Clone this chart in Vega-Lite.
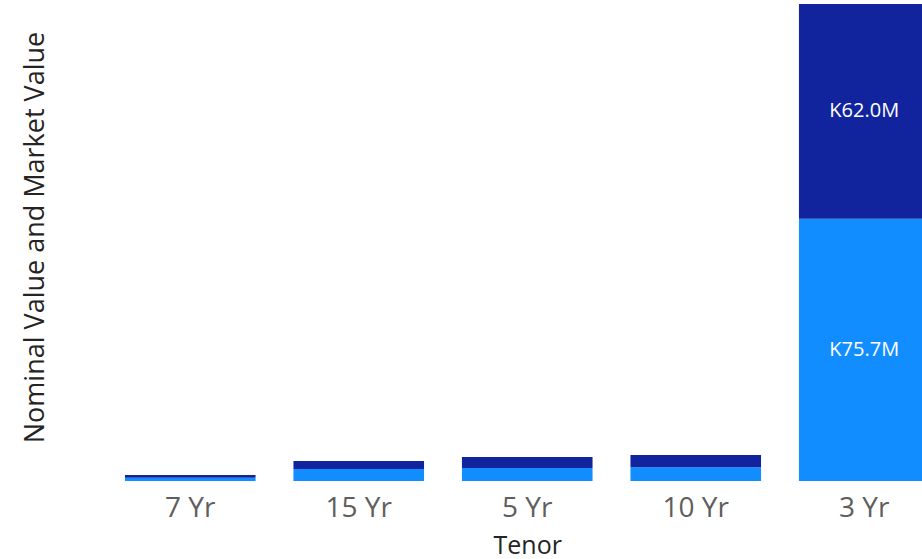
{
  "$schema": "https://vega.github.io/schema/vega-lite/v6.json",
  "autosize": "none",
  "width": 816,
  "height": 477,
  "padding": {"left": 106, "top": 4, "right": 0, "bottom": 78},
  "background": "white",
  "config": {"view": {"stroke": null}, "font": "Open Sans"},
  "data": {
    "values": [
      {"tenor": "7 Yr", "measure": "Nominal Value", "order": 1, "value": 0.95},
      {"tenor": "7 Yr", "measure": "Market Value", "order": 2, "value": 0.8},
      {"tenor": "15 Yr", "measure": "Nominal Value", "order": 1, "value": 3.5},
      {"tenor": "15 Yr", "measure": "Market Value", "order": 2, "value": 2.3},
      {"tenor": "5 Yr", "measure": "Nominal Value", "order": 1, "value": 3.75},
      {"tenor": "5 Yr", "measure": "Market Value", "order": 2, "value": 3.2},
      {"tenor": "10 Yr", "measure": "Nominal Value", "order": 1, "value": 4.0},
      {"tenor": "10 Yr", "measure": "Market Value", "order": 2, "value": 3.5},
      {"tenor": "3 Yr", "measure": "Nominal Value", "order": 1, "value": 75.7},
      {"tenor": "3 Yr", "measure": "Market Value", "order": 2, "value": 62.0}
    ]
  },
  "transform": [
    {"stack": "value", "groupby": ["tenor"], "sort": [{"field": "order"}], "as": ["v0", "v1"]},
    {"calculate": "(datum.v0 + datum.v1) / 2", "as": "mid"},
    {"calculate": "'K' + format(datum.value, '.1f') + 'M'", "as": "label"}
  ],
  "encoding": {
    "x": {
      "field": "tenor",
      "type": "nominal",
      "sort": ["7 Yr", "15 Yr", "5 Yr", "10 Yr", "3 Yr"],
      "scale": {"range": [0, 842.5], "paddingInner": 0.225, "paddingOuter": 0.1125},
      "axis": {
        "title": "Tenor",
        "domain": false,
        "ticks": false,
        "labelAngle": 0,
        "labelFontSize": 28,
        "labelColor": "#605E5C",
        "labelPadding": 13,
        "titleFontSize": 25,
        "titleColor": "#252423",
        "titleFontWeight": 500,
        "titlePadding": 11
      }
    }
  },
  "layer": [
    {
      "mark": {"type": "bar", "clip": true},
      "encoding": {
        "y": {
          "field": "v0",
          "type": "quantitative",
          "scale": {"domain": [0, 137.7], "nice": false},
          "axis": {
            "title": "Nominal Value and Market Value",
            "labels": false,
            "ticks": false,
            "domain": false,
            "grid": false,
            "titleFontSize": 27,
            "titleColor": "#252423",
            "titleFontWeight": "normal",
            "titlePadding": 57,
            "titleY": 233
          }
        },
        "y2": {"field": "v1"},
        "color": {
          "field": "measure",
          "type": "nominal",
          "scale": {"domain": ["Nominal Value", "Market Value"], "range": ["#118DFF", "#12239E"]},
          "legend": null
        }
      }
    },
    {
      "transform": [{"filter": "datum.value > 10"}],
      "mark": {"type": "text", "color": "white", "fontSize": 20, "baseline": "middle", "align": "center"},
      "encoding": {
        "y": {"field": "mid", "type": "quantitative"},
        "text": {"field": "label", "type": "nominal"}
      }
    }
  ]
}
